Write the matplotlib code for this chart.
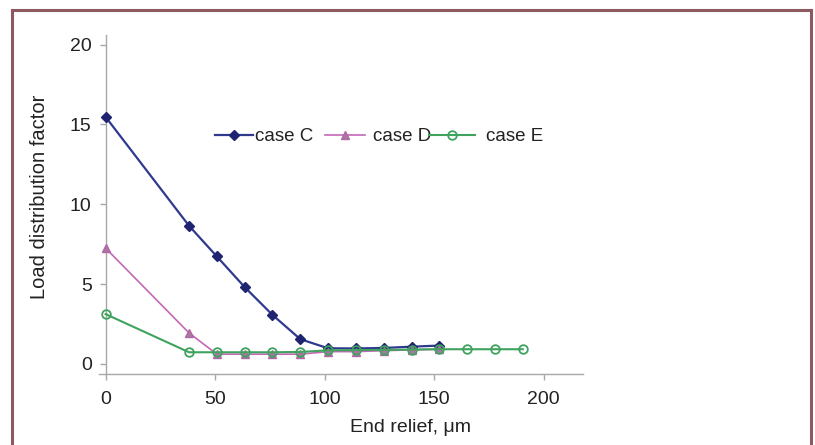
import matplotlib
matplotlib.use("Agg")
import matplotlib.pyplot as plt
from matplotlib.lines import Line2D

plt.rcParams['font.family'] = ['Liberation Sans', 'DejaVu Sans']

# End relief in micrometres (steps of 12.7 um)
relief_c = [0.0, 38.1, 50.8, 63.5, 76.2, 88.9, 101.6, 114.3, 127.0, 139.7, 152.4]
relief_d = [0.0, 38.1, 50.8, 63.5, 76.2, 88.9, 101.6, 114.3, 127.0, 139.7, 152.4]
relief_e = [0.0, 38.1, 50.8, 63.5, 76.2, 88.9, 101.6, 114.3, 127.0, 139.7, 152.4,
            165.1, 177.8, 190.5]

# Load distribution factor for each case
ldf_c = [15.47, 8.65, 6.73, 4.81, 3.07, 1.55, 0.98, 0.97, 1.00, 1.08, 1.15]
ldf_d = [7.25, 1.94, 0.61, 0.61, 0.61, 0.61, 0.77, 0.77, 0.83, 0.88, 0.92]
ldf_e = [3.12, 0.73, 0.73, 0.73, 0.73, 0.75, 0.85, 0.87, 0.88, 0.90, 0.92,
         0.92, 0.92, 0.92]

case_labels = ['case C', 'case D', 'case E']
x_ticks = [0, 50, 100, 150, 200]
y_ticks = [0, 5, 10, 15, 20]

W, H = 815, 445
fig = plt.figure(figsize=(W / 100, H / 100), dpi=100)
fig.patch.set_facecolor('white')

# page frame (open at the bottom)
frame_col = '#8E5A5F'
fl, fr, ft = 12 / W, 811 / W, 1 - 10 / H
fig.add_artist(Line2D([fl, fl], [0, ft], transform=fig.transFigure,
                      color=frame_col, lw=2.2))
fig.add_artist(Line2D([fl, fr], [ft, ft], transform=fig.transFigure,
                      color=frame_col, lw=2.2))
fig.add_artist(Line2D([fr, fr], [ft, 0], transform=fig.transFigure,
                      color=frame_col, lw=2.2))

ax = fig.add_axes([98.6 / W, 1 - 374.3 / H, (583 - 98.6) / W, (374.3 - 35) / H])
ax.set_xlim(-3.2, 218)
ax.set_ylim(-0.65, 20.6)

line_c, = ax.plot(relief_c, ldf_c, color='#2F3A8F', lw=1.6, marker='D', ms=5.2,
                  mfc='#1E2470', mec='#1E2470', zorder=3)
line_d, = ax.plot(relief_d, ldf_d, color='#C468B6', lw=1.2, marker='^', ms=6.0,
                  mfc='#A57AA0', mec='#B465A8', zorder=4)
line_e, = ax.plot(relief_e, ldf_e, color='#3FA35E', lw=1.5, marker='o', ms=6.2,
                  mfc='none', mec='#3FA35E', mew=1.3, zorder=5)

for s in ('top', 'right'):
    ax.spines[s].set_visible(False)
ax.spines['left'].set_position(('data', 0))
for s in ('left', 'bottom'):
    ax.spines[s].set_color('#A8A8A8')
    ax.spines[s].set_linewidth(1.0)

ax.set_xticks(x_ticks)
ax.set_yticks(y_ticks)
ax.tick_params(axis='both', colors='#A8A8A8', labelcolor='#222222',
               labelsize=14, length=4, width=1.0)
ax.tick_params(axis='x', pad=8)
ax.tick_params(axis='y', pad=6)

fig.text(410 / W, 1 - 428 / H, 'End relief, \u03bcm', ha='center', va='center',
         fontsize=14, color='#222222')
fig.text(40 / W, 1 - 197 / H, 'Load distribution factor', ha='center',
         va='center', rotation=90, fontsize=14.5, color='#222222')

# legend entries laid out in a single row: (handle, label, left x, handle len, text pad)
legend_fs = 13.5
entries = [(line_c, case_labels[0], 215, 2.03, 0.10),
           (line_d, case_labels[1], 325, 2.13, 0.43),
           (line_e, case_labels[2], 429, 2.45, 0.59)]
for handle, text, x0, hlen, tpad in entries:
    fig.legend(handles=[handle], labels=[text], loc='center left',
               bbox_to_anchor=(x0 / W, 1 - 136.7 / H), frameon=False,
               fontsize=legend_fs, handlelength=hlen, handletextpad=tpad,
               borderpad=0, borderaxespad=0, labelcolor='#222222')

fig.savefig('out.png', dpi=100, facecolor='white')
